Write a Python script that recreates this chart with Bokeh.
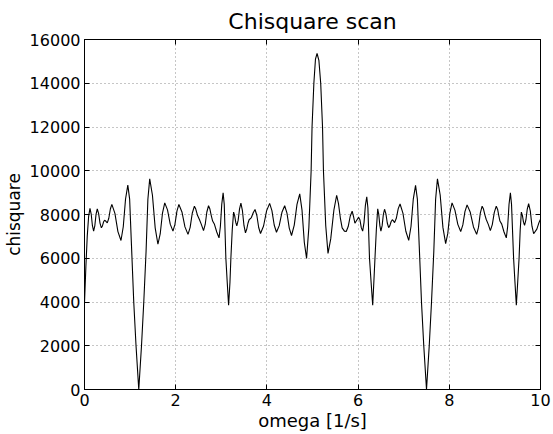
from bokeh.plotting import figure
from bokeh.models import Range1d, FixedTicker, LinearAxis
from bokeh.embed import file_html
from bokeh.resources import INLINE

# values (omega in 1/s, chisquare)
omega = [
    0.00, 0.03, 0.06, 0.09, 0.12, 0.147, 0.173, 0.20, 0.227, 0.253, 0.28,
    0.31, 0.34, 0.37, 0.393, 0.417, 0.44, 0.47, 0.50, 0.533, 0.567, 0.60,
    0.667, 0.733, 0.80, 0.85, 0.90, 0.95, 0.99, 1.03, 1.08, 1.13, 1.19,
    1.25, 1.30, 1.35, 1.39, 1.43, 1.49, 1.55, 1.61, 1.66, 1.71, 1.76,
    1.82, 1.88, 1.94, 1.983, 2.027, 2.07, 2.137, 2.203, 2.27, 2.317, 2.363,
    2.41, 2.44, 2.48, 2.52, 2.56, 2.61, 2.647, 2.683, 2.72, 2.75, 2.78,
    2.81, 2.85, 2.90, 2.95, 2.98, 3.01, 3.04, 3.065, 3.10, 3.13, 3.16,
    3.19, 3.21, 3.24, 3.27, 3.293, 3.317, 3.34, 3.37, 3.40, 3.43, 3.463,
    3.497, 3.53, 3.56, 3.585, 3.61, 3.66, 3.70, 3.74, 3.78, 3.82, 3.86,
    3.927, 3.993, 4.06, 4.11, 4.16, 4.21, 4.27, 4.33, 4.39, 4.44, 4.49,
    4.54, 4.60, 4.66, 4.72, 4.77, 4.82, 4.87, 4.92, 4.97, 4.99, 5.03,
    5.065, 5.10, 5.14, 5.18, 5.22, 5.24, 5.29, 5.34, 5.40, 5.47, 5.53,
    5.57, 5.61, 5.65, 5.70, 5.74, 5.783, 5.827, 5.87, 5.90, 5.93, 5.97,
    6.01, 6.04, 6.07, 6.10, 6.13, 6.16, 6.19, 6.215, 6.25, 6.285, 6.32,
    6.345, 6.37, 6.40, 6.43, 6.453, 6.477, 6.50, 6.527, 6.553, 6.58, 6.61,
    6.64, 6.67, 6.697, 6.723, 6.75, 6.775, 6.80, 6.84, 6.88, 6.92, 6.983,
    7.047, 7.11, 7.16, 7.21, 7.26, 7.30, 7.34, 7.39, 7.44, 7.50, 7.56,
    7.61, 7.66, 7.70, 7.74, 7.80, 7.86, 7.92, 7.967, 8.013, 8.06, 8.123,
    8.187, 8.25, 8.297, 8.343, 8.39, 8.46, 8.53, 8.60, 8.64, 8.68, 8.72,
    8.75, 8.78, 8.81, 8.855, 8.90, 8.943, 8.987, 9.03, 9.06, 9.085, 9.11,
    9.15, 9.20, 9.25, 9.28, 9.31, 9.34, 9.365, 9.41, 9.44, 9.47, 9.50,
    9.53, 9.555, 9.58, 9.603, 9.627, 9.65, 9.68, 9.71, 9.74, 9.777, 9.813,
    9.85, 9.92, 9.97, 10.00,
]
chisquare = [
    3950, 5600, 7000, 7900, 8280, 8020, 7500, 7240, 7495, 8005, 8260,
    8043, 7608, 7390, 7478, 7653, 7740, 7690, 7620, 7830, 8250, 8460,
    8050, 7220, 6810, 7440, 8710, 9340, 8700, 6600, 4000, 2000, 0,
    2000, 4000, 6300, 8700, 9630, 8880, 7390, 6640, 7110, 8060, 8530,
    8210, 7560, 7240, 7545, 8155, 8460, 8118, 7433, 7090, 7413, 8058,
    8380, 8250, 7950, 7770, 7560, 7260, 7545, 8115, 8400, 8250, 7950,
    7700, 7550, 7200, 6930, 7450, 8470, 8990, 8450, 6000, 4900, 3850,
    4900, 6000, 7300, 8110, 7950, 7640, 7480, 7740, 8260, 8520, 8180,
    7500, 7160, 7350, 7600, 7760, 7860, 8080, 8230, 7955, 7405, 7130,
    7475, 8165, 8510, 8180, 7520, 7190, 7490, 8100, 8400, 8060, 7380,
    7040, 7515, 8465, 8940, 8200, 6730, 5990, 7400, 10000, 12000, 14000,
    15100, 15360, 15050, 14000, 12000, 10000, 7500, 6220, 6885, 8215, 8880,
    8500, 7850, 7390, 7240, 7220, 7450, 7920, 8150, 7900, 7600, 7740,
    7870, 7760, 7400, 7240, 7630, 8420, 8810, 8300, 6000, 4900, 3850,
    4900, 6000, 7300, 8260, 8005, 7495, 7240, 7490, 7990, 8240, 8030,
    7610, 7400, 7490, 7670, 7760, 7710, 7630, 7840, 8270, 8480, 8065,
    7235, 6820, 7450, 8700, 9330, 8700, 6600, 4000, 2000, 0, 2000,
    4000, 6300, 8700, 9630, 8890, 7410, 6670, 7135, 8065, 8530, 8200,
    7550, 7220, 7525, 8135, 8440, 8100, 7430, 7090, 7410, 8060, 8380,
    8250, 7980, 7770, 7550, 7260, 7540, 8100, 8380, 8230, 7950, 7700,
    7560, 7200, 6930, 7450, 8470, 8990, 8450, 6000, 4900, 3850, 4900,
    6000, 7300, 8110, 7960, 7650, 7500, 7750, 8250, 8500, 8155, 7465,
    7120, 7330, 7650, 7780,
]

x_ticks = [0, 2, 4, 6, 8, 10]
y_ticks = [0, 2000, 4000, 6000, 8000, 10000, 12000, 14000, 16000]

FONT = "DejaVu Sans"

p = figure(frame_width=456, frame_height=350, output_backend="svg",
           toolbar_location=None, title="Chisquare scan",
           x_range=Range1d(0, 10), y_range=Range1d(0, 16000),
           min_border_left=20, min_border_right=12, min_border_top=4,
           min_border_bottom=4)

p.title.align = "center"
p.title.text_font = FONT
p.title.text_font_size = "22px"
p.title.text_font_style = "normal"
p.title.text_color = "black"
p.title.standoff = 12

p.line(x=omega, y=chisquare, line_color="black", line_width=1.1)

p.xaxis.ticker = FixedTicker(ticks=x_ticks)
p.yaxis.ticker = FixedTicker(ticks=y_ticks)
p.xaxis.axis_label = "omega [1/s]"
p.yaxis.axis_label = "chisquare"

for ax in [p.xaxis[0], p.yaxis[0]]:
    ax.axis_label_text_font = FONT
    ax.axis_label_text_font_style = "normal"
    ax.axis_label_text_color = "black"
    ax.major_label_text_font = FONT
    ax.major_label_text_font_size = "16px"
    ax.major_label_text_color = "black"
    ax.major_tick_in = 5
    ax.major_tick_out = 0
    ax.minor_tick_line_color = None
    ax.axis_line_color = "black"
    ax.major_tick_line_color = "black"
p.xaxis.axis_label_text_font_size = "18px"
p.yaxis.axis_label_text_font_size = "17px"
p.xaxis.major_label_standoff = 4
p.yaxis.major_label_standoff = 4
p.xaxis.axis_label_standoff = 1
p.yaxis.axis_label_standoff = 3

for side, ticks in (("above", x_ticks), ("right", y_ticks)):
    ax = LinearAxis(ticker=FixedTicker(ticks=ticks),
                    major_label_text_font_size="1px",
                    major_label_text_color=None,
                    major_tick_in=5, major_tick_out=0,
                    minor_tick_line_color=None,
                    major_label_standoff=0, axis_line_color="black")
    p.add_layout(ax, side)

p.grid.grid_line_color = "black"
p.grid.grid_line_alpha = 0.45
p.grid.grid_line_dash = "1 3"
p.grid.grid_line_width = 1
p.outline_line_color = "black"
p.outline_line_width = 1
p.background_fill_color = "white"
p.border_fill_color = "white"

open("out.html", "w").write(file_html(p, INLINE))
